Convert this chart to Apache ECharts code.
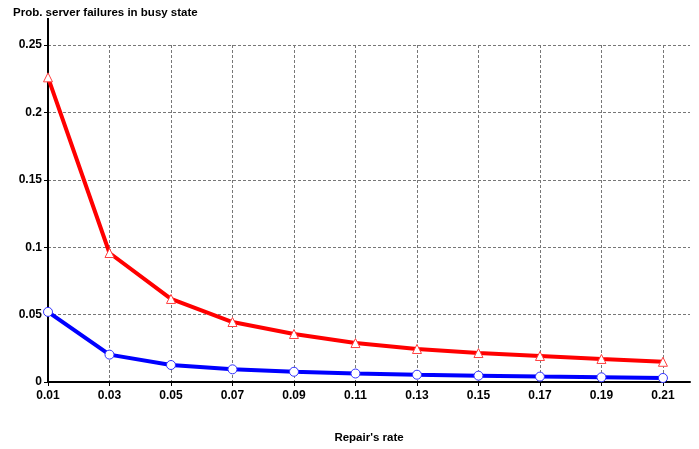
<!DOCTYPE html>
<html>
<head>
<meta charset="utf-8">
<script src="https://cdn.jsdelivr.net/npm/echarts@6/dist/echarts.min.js"></script>
<style>
  html, body { margin: 0; padding: 0; background: #fff; }
  #chart { width: 699px; height: 449px; }
</style>
</head>
<body>
<div id="chart"></div>
<script>
var rates = [0.01, 0.03, 0.05, 0.07, 0.09, 0.11, 0.13, 0.15, 0.17, 0.19, 0.21];
var red_vals = [0.226, 0.0957, 0.0616, 0.0445, 0.0356, 0.0289, 0.0245, 0.0215, 0.0193, 0.0171, 0.0150];
var blue_vals = [0.052, 0.0203, 0.0126, 0.0094, 0.0076, 0.0063, 0.0054, 0.0047, 0.0040, 0.0035, 0.0030];

function pairs(xs, ys) {
  return xs.map(function(x, i) { return [x, ys[i]]; });
}

var label_font = { fontFamily: 'Liberation Sans, Arial', fontWeight: 'bold', fontSize: 12, color: '#000' };

var option = {
  animation: false,
  backgroundColor: '#fff',
  title: {
    text: 'Prob. server failures in busy state',
    left: 8, top: 2,
    textStyle: { fontFamily: 'Liberation Sans, Arial', fontWeight: 'bold', fontSize: 11.5, color: '#000' }
  },
  grid: { left: 48, right: 9, top: 45, bottom: 67 },
  xAxis: {
    type: 'value',
    min: 0.01, max: 0.2188, interval: 0.02,
    name: "Repair's rate",
    nameLocation: 'middle',
    nameGap: 50,
    nameTextStyle: { fontFamily: 'Liberation Sans, Arial', fontWeight: 'bold', fontSize: 11.5, color: '#000' },
    axisLine: { lineStyle: { color: '#000', width: 2 } },
    axisTick: { show: true, length: 4, lineStyle: { color: '#000' } },
    axisLabel: Object.assign({ margin: 8, showMaxLabel: false, formatter: function(v) { return v.toFixed(2); } }, label_font),
    splitLine: { show: true, showMinLine: false, showMaxLine: false, lineStyle: { color: '#777', type: [3, 2], width: 1 } }
  },
  yAxis: {
    type: 'value',
    min: 0, max: 0.25, interval: 0.05,
    axisLine: { show: true, lineStyle: { color: '#000', width: 2 } },
    axisTick: { show: true, length: 4, lineStyle: { color: '#000' } },
    axisLabel: Object.assign({ margin: 6, formatter: function(v) { return v === 0 ? '0' : String(+v.toFixed(2)); } }, label_font),
    splitLine: { show: true, showMinLine: false, lineStyle: { color: '#777', type: [3, 2], width: 1 } }
  },
  series: [
    {
      type: 'line',
      data: pairs(rates, red_vals),
      symbol: 'triangle', symbolSize: 9,
      lineStyle: { color: '#ff0000', width: 4 },
      itemStyle: { color: '#fff', borderColor: '#ff4040', borderWidth: 1 }
    },
    {
      type: 'line',
      data: pairs(rates, blue_vals),
      symbol: 'circle', symbolSize: 9,
      lineStyle: { color: '#0000ff', width: 4 },
      itemStyle: { color: '#fff', borderColor: '#3030ff', borderWidth: 1 }
    }
  ]
};

var chart = echarts.init(document.getElementById('chart'));
chart.setOption(option);

// y axis line runs on above the 0.25 grid line
var top_pt = chart.convertToPixel({ gridIndex: 0 }, [0.01, 0.25]);
chart.setOption({
  graphic: [{
    type: 'line', silent: true, z: 10,
    shape: { x1: top_pt[0], y1: top_pt[1], x2: top_pt[0], y2: 18 },
    style: { stroke: '#000', lineWidth: 2 }
  }]
});
</script>
</body>
</html>
